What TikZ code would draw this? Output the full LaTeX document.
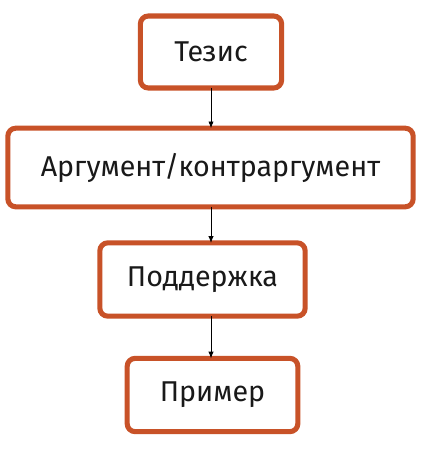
\documentclass[tikz,border=0pt]{standalone}
\usepackage{fontspec}
\setmainfont{Fira Sans}
\usetikzlibrary{arrows.meta}
\definecolor{brush}{RGB}{200,82,40}
\tikzset{
	kasten/.style={draw=brush, line width=3.8pt, rounded corners=6pt, fill=white, inner sep=0pt, outer sep=0pt, text=black!90, font=\fontsize{21.5}{25}\selectfont},
	pfeil/.style={line width=0.6pt, -{Latex[length=5pt,width=4pt]}}
}
\begin{document}
\begin{tikzpicture}[x=0.75pt,y=-0.75pt]
	\useasboundingbox (0,0) rectangle (422,450);
	
	\node[kasten, minimum width=106pt, minimum height=54pt] (tezis) at (211, 52) {Тезис};%oben
	\node[kasten, minimum width=304pt, minimum height=59pt] (argument) at (210.5, 167.5) {Аргумент/контраргумент};
	\node[kasten, minimum width=154pt, minimum height=55pt] (podderzhka) at (202.5, 279.5) {Поддержка};
	\node[kasten, minimum width=128pt, minimum height=55pt] (primer) at (212.5, 395) {Пример};%unten
	
	%Pfeile
	\draw[pfeil] (tezis.south) -- (tezis.south |- argument.north);
	\draw[pfeil] (tezis.south |- argument.south) -- (tezis.south |- podderzhka.north);
	\draw[pfeil] (tezis.south |- podderzhka.south) -- (tezis.south |- primer.north);
	
\end{tikzpicture}
\end{document}
